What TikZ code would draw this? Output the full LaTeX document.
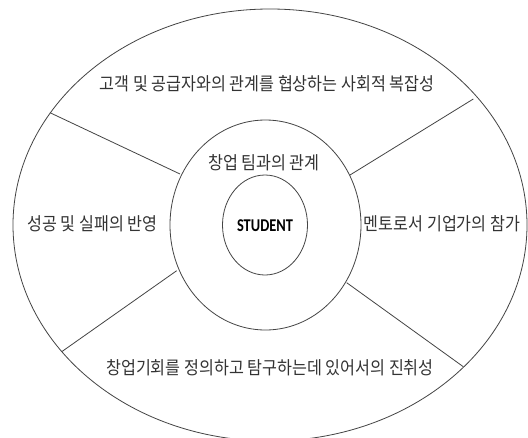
\documentclass[tikz,border=0pt]{standalone}
\usepackage{fontspec}
\usetikzlibrary{shapes.geometric}
\newfontfamily\kr{Noto Sans CJK KR}
\newfontfamily\latb{Carlito}[BoldFont={Carlito Bold}]
\definecolor{linec}{HTML}{444444}
\definecolor{textc}{HTML}{333333}
\newcommand{\krt}[1]{\scalebox{0.9}[1]{#1}}
\begin{document}
\begin{tikzpicture}[x=1pt,y=-1pt,
  ring/.style={draw=linec, line width=0.8pt, ellipse, inner sep=0pt},
  lbl/.style={text=textc, inner sep=0pt, font=\kr\fontsize{18}{22}\selectfont},
  spoke/.style={draw=linec, line width=0.8pt}]
\useasboundingbox (0,0) rectangle (528,437);
\clip (0,0) rectangle (528,437);
\fill[white] (0,0) rectangle (528,437);
\node[ring, minimum width=514pt, minimum height=432pt] (outer) at (270,225) {};
\node[ring, minimum width=191pt, minimum height=210pt] (middle) at (265.5,225) {};
\node[ring, minimum width=85pt, minimum height=100pt] (inner) at (265,225) {};
\coordinate (o1) at (50,112.7);  \coordinate (m1) at (180,174);
\coordinate (o2) at (473.3,99);  \coordinate (m2) at (350,175);
\coordinate (o3) at (61.7,351.7); \coordinate (m3) at (176.7,270.7);
\coordinate (o4) at (463.3,366.7); \coordinate (m4) at (346.7,282.7);
\draw[spoke] (o1) -- (m1);
\draw[spoke] (o2) -- (m2);
\draw[spoke] (o3) -- (m3);
\draw[spoke] (o4) -- (m4);
\node[lbl] (t1) at (267,84) {\krt{고객 및 공급자와의 관계를 협상하는 사회적 복잡성}};
\node[lbl] (t2) at (264,163) {\krt{창업 팀과의 관계}};
\node[lbl] (t3) at (92.5,224) {\krt{성공 및 실패의 반영}};
\node[lbl] (t4) at (442,224) {\krt{멘토로서 기업가의 참가}};
\node[lbl] (t5) at (270,368) {\krt{창업기회를 정의하고 탐구하는데 있어서의 진취성}};
\node[inner sep=0pt, text=black, font=\latb\bfseries\fontsize{18}{20}\selectfont] (st) at (265,226) {\scalebox{0.8}[1]{STUDENT}};
\end{tikzpicture}
\end{document}
